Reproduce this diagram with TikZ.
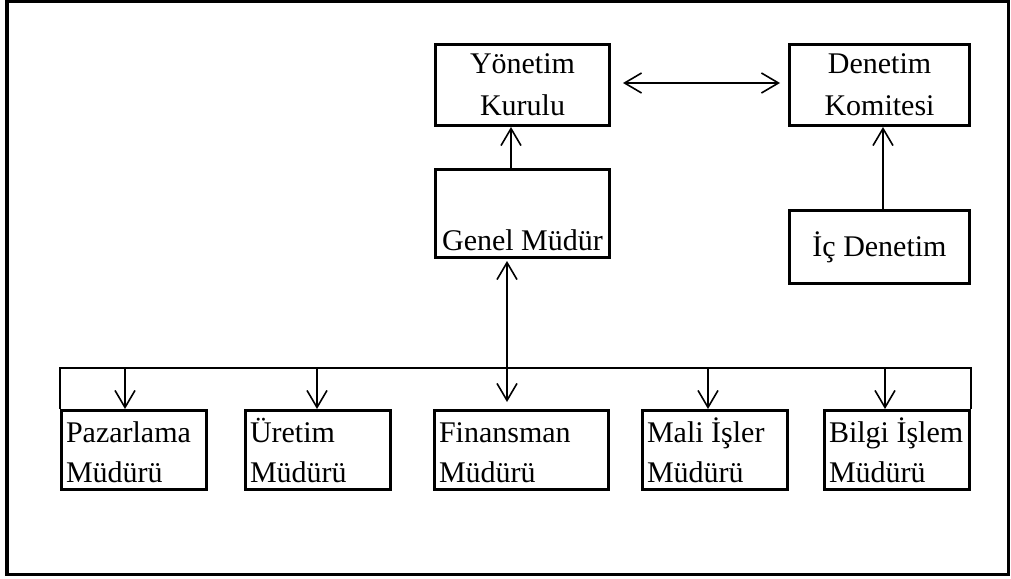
\documentclass[tikz,border=0pt]{standalone}
\usepackage{fontspec}
\setmainfont{Liberation Serif}
\usetikzlibrary{arrows.meta}

\begin{document}
\begin{tikzpicture}[x=1pt,y=-1pt,
        box/.style={draw,rectangle,line width=3pt,inner sep=0pt,font=\fontsize{30}{42}\selectfont},
        mgr/.style={box,minimum width=145pt,minimum height=79pt,text width=136pt,align=flush left,font=\fontsize{30}{40}\selectfont,execute at begin node={\vphantom{Ü}}},
        arr/.style={line width=1.6pt,-{Straight Barb[length=17pt,width=20pt,line width=1.6pt]}},
        bus/.style={line width=2.6pt}]
        \useasboundingbox (0,0) rectangle (1011,578);
        % Frame
        \draw[line width=3.5pt] (7,1.5) rectangle (1008.5,574.5);
        % Board and committee
        \draw (522.5,85) node[box,minimum width=174pt,minimum height=81pt,align=center](yonetim) {Yönetim\\Kurulu};
        \draw (879.5,85) node[box,minimum width=180pt,minimum height=81pt,align=center](denetim) {Denetim\\Komitesi};
        \draw (522.5,213.5) node[box,minimum width=174pt,minimum height=88pt,text height=80pt,text depth=7pt](genel) {Genel Müdür};
        \draw (879.5,247) node[box,minimum width=180pt,minimum height=73pt](icdenetim) {İç Denetim};
        \draw[arr,{Straight Barb[length=17pt,width=20pt,line width=1.6pt]}-{Straight Barb[length=17pt,width=20pt,line width=1.6pt]},shorten <=12pt,shorten >=8pt] (yonetim.east |- 0,83) -- (denetim.west |- 0,83);
        \draw[arr] ([xshift=-11.5pt]genel.north) -- ([xshift=-11.5pt]yonetim.south);
        \draw[arr] ([xshift=3.5pt]icdenetim.north) -- ([xshift=3.5pt]denetim.south);
        % Managers
        \draw (134,450) node[mgr](pazarlama) {Pazarlama\\Müdürü};
        \draw (318,450) node[mgr](uretim) {Üretim\\Müdürü};
        \draw (521.5,450) node[mgr,minimum width=174pt,text width=165pt](finansman) {Finansman\\Müdürü};
        \draw (715,450) node[mgr](mali) {Mali İşler\\Müdürü};
        \draw (897,450) node[mgr](bilgi) {\mbox{Bilgi İşlem}\\Müdürü};
        \coordinate (bus) at (0,368);
        \draw[bus] (pazarlama.north west) -- (pazarlama.north west |- bus) -- (bilgi.north east |- bus) -- (bilgi.north east);
        \foreach \n/\dx in {pazarlama/-9,uretim/-1,mali/-7,bilgi/-12}
            \draw[arr] ([xshift=\dx pt]\n.north |- bus) -- ([xshift=\dx pt]\n.north);
        \draw[arr,{Straight Barb[length=17pt,width=20pt,line width=1.6pt]}-{Straight Barb[length=17pt,width=20pt,line width=1.6pt]},shorten <=2pt,shorten >=7pt] ([xshift=-15.5pt]genel.south) -- ([xshift=-14.5pt]finansman.north);
    \end{tikzpicture}
\end{document}
